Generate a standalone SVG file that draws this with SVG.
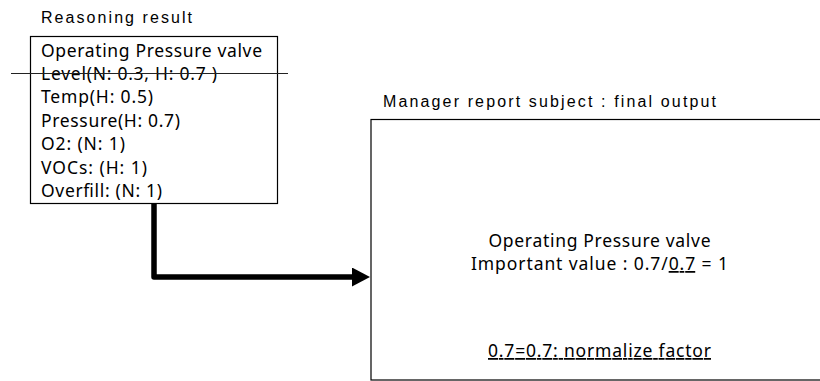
<svg xmlns="http://www.w3.org/2000/svg" width="820" height="381" viewBox="0 0 820 381">
<style>
.box{fill:#fff;stroke:#000;stroke-width:1.2}
.t{font-family:"Noto Sans","Open Sans",sans-serif;font-size:17.5px;fill:#000}
.ttl{font-family:"Liberation Sans",Arial,sans-serif;font-size:16px;fill:#000}
.c{text-anchor:middle}
.conn{fill:none;stroke:#000;stroke-width:5.5;stroke-linejoin:round}
</style>
<defs>
<marker id="arrow" markerUnits="userSpaceOnUse" markerWidth="18" markerHeight="19" refX="3" refY="9.5" orient="auto">
<path d="M0,0 L18,9.5 L0,19 Z" fill="#000"/>
</marker>
</defs>
<g id="reasoning-result">
<text class="ttl" x="41" y="23" textLength="151">Reasoning result</text>
<rect class="box" x="30.5" y="36.5" width="247" height="167"/>
<text class="t" x="41" y="57" textLength="221">Operating Pressure valve</text>
<text class="t" x="41" y="80" textLength="176">Level(N: 0.3, H: 0.7 )</text>
<text class="t" x="41" y="103" textLength="112">Temp(H: 0.5)</text>
<text class="t" x="41" y="127" textLength="139">Pressure(H: 0.7)</text>
<text class="t" x="41" y="150" textLength="84">O2: (N: 1)</text>
<text class="t" x="41" y="174" textLength="106">VOCs: (H: 1)</text>
<text class="t" x="41" y="197" textLength="121">Overfill: (N: 1)</text>
<line x1="11" y1="73.5" x2="288" y2="73.5" stroke="#222" stroke-width="1.2"/>
</g>
<g id="final-output">
<text class="ttl" x="383" y="107" textLength="333">Manager report subject : final output</text>
<rect class="box" x="371" y="119.5" width="460" height="260.5"/>
<text class="t c" x="599.5" y="247" textLength="222">Operating Pressure valve</text>
<text class="t c" x="599.5" y="270" textLength="257">Important value : 0.7/<tspan text-decoration="underline">0.7</tspan> = 1</text>
<text class="t c" x="599.5" y="357" textLength="223" text-decoration="underline">0.7=0.7: normalize factor</text>
</g>
<g id="connectors">
<path class="conn" d="M154,203 V277 H355" marker-end="url(#arrow)"/>
</g>
</svg>
